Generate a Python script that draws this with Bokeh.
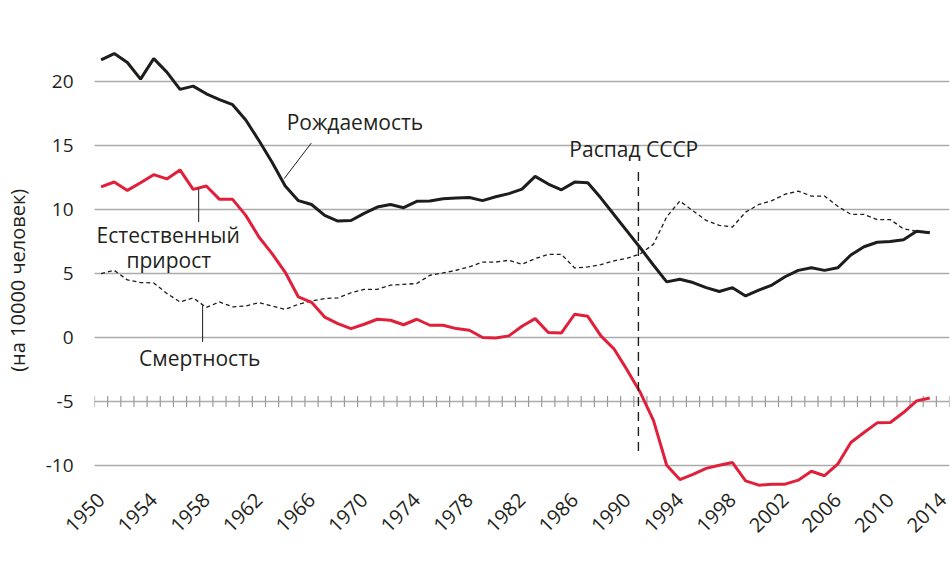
import math
from bokeh.plotting import figure
from bokeh.models import Range1d, FixedTicker, Label, ColumnDataSource
from bokeh.embed import file_html
from bokeh.resources import INLINE

years = list(range(1950, 2014))

birth_rate = [21.7, 22.2, 21.5, 20.2, 21.8, 20.75, 19.4, 19.65, 19.05, 18.6,
              18.2, 17.0, 15.4, 13.7, 11.85, 10.7, 10.4, 9.55, 9.1, 9.15,
              9.7, 10.2, 10.4, 10.15, 10.65, 10.67, 10.85, 10.9, 10.95, 10.7,
              11.0, 11.25, 11.6, 12.6, 12.0, 11.55, 12.15, 12.1, 10.9, 9.6,
              8.3, 7.0, 5.65, 4.35, 4.55, 4.3, 3.9, 3.6, 3.9, 3.25,
              3.7, 4.1, 4.75, 5.25, 5.45, 5.25, 5.45, 6.45, 7.1, 7.45,
              7.5, 7.65, 8.3, 8.2]

death_rate = [5.0, 5.25, 4.5, 4.3, 4.27, 3.45, 2.78, 3.1, 2.35, 2.78,
              2.4, 2.47, 2.73, 2.47, 2.2, 2.6, 2.86, 3.05, 3.1, 3.5,
              3.77, 3.77, 4.09, 4.16, 4.22, 4.87, 5.05, 5.26, 5.52, 5.9,
              5.9, 6.04, 5.73, 6.17, 6.5, 6.5, 5.44, 5.52, 5.7, 6.0,
              6.2, 6.55, 7.3, 9.43, 10.67, 9.9, 9.16, 8.77, 8.64, 9.8,
              10.4, 10.7, 11.2, 11.45, 11.06, 11.06, 10.26, 9.63, 9.63, 9.22,
              9.22, 8.5, 8.3, 8.25]

natural_growth = [11.77, 12.16, 11.5, 12.1, 12.73, 12.4, 13.1, 11.58, 11.84, 10.8,
                  10.8, 9.55, 7.86, 6.56, 5.1, 3.17, 2.75, 1.6, 1.09, 0.7,
                  1.04, 1.43, 1.35, 1.0, 1.43, 0.96, 0.96, 0.7, 0.57, 0.0,
                  -0.03, 0.13, 0.88, 1.48, 0.39, 0.36, 1.82, 1.66, 0.13, -0.9,
                  -2.55, -4.3, -6.5, -9.98, -11.1, -10.7, -10.23, -9.98, -9.77, -11.2,
                  -11.54, -11.46, -11.46, -11.15, -10.45, -10.8, -9.9, -8.2, -7.42, -6.67,
                  -6.64, -5.86, -4.95, -4.72]

x_tick_years = list(range(1950, 2015, 4))
y_ticks = [-10, -5, 0, 5, 10, 15, 20]
y_tick_text = {-10: "-10", -5: "-5"}
axis_value = -5
ussr_collapse = 1990.85

FONT = "Open Sans"
TXT = "#231f20"
RED = "#e0203a"
BLK = "#1d1d1b"
GRID = "#ababab"

p = figure(width=952, height=555, output_backend="svg", toolbar_location=None,
           x_range=Range1d(1949.5, 2014.5), y_range=Range1d(-11.8, 24.0),
           min_border_left=88, min_border_right=3, min_border_top=30,
           min_border_bottom=67)
p.outline_line_color = None
p.background_fill_color = "white"
p.border_fill_color = "white"

# axes
p.xaxis.ticker = FixedTicker(ticks=x_tick_years)
p.xaxis.axis_line_color = None
p.xaxis.major_tick_line_color = None
p.xaxis.minor_tick_line_color = None
p.xaxis.major_label_orientation = math.pi / 4
p.xaxis.major_label_text_font = FONT
p.xaxis.major_label_text_font_size = "20px"
p.xaxis.major_label_text_color = TXT
p.xaxis.major_label_standoff = 2

p.yaxis.ticker = FixedTicker(ticks=y_ticks)
p.yaxis.major_label_overrides = y_tick_text
p.yaxis.axis_line_color = None
p.yaxis.major_tick_line_color = None
p.yaxis.minor_tick_line_color = None
p.yaxis.major_label_text_font = FONT
p.yaxis.major_label_text_font_size = "19px"
p.yaxis.major_label_text_color = TXT
p.yaxis.major_label_standoff = 15
p.yaxis.axis_label = "(на 10000 человек)" + "\u00a0" * 8
p.yaxis.axis_label_text_font = FONT
p.yaxis.axis_label_text_font_size = "20px"
p.yaxis.axis_label_text_font_style = "normal"
p.yaxis.axis_label_text_color = TXT
p.yaxis.axis_label_standoff = 12

p.xgrid.grid_line_color = None
p.ygrid.ticker = FixedTicker(ticks=y_ticks)
p.ygrid.grid_line_color = GRID
p.ygrid.grid_line_width = 1.6

# year tick marks on the -5 line (category boundaries)
bounds = [y - 0.5 for y in range(1950, 2016)]
tick_src = ColumnDataSource(dict(x=bounds, y0=[axis_value - 0.43] * len(bounds),
                                 y1=[axis_value + 0.43] * len(bounds)))
p.segment(x0="x", x1="x", y0="y0", y1="y1", source=tick_src,
          line_color="#9a9a9a", line_width=1.2)

src = ColumnDataSource(dict(year=years, birth=birth_rate, death=death_rate,
                            nat=natural_growth))
p.line("year", "death", source=src, line_color=BLK, line_width=1.3, line_dash="4 3")
p.line("year", "birth", source=src, line_color=BLK, line_width=3.0)
p.line("year", "nat", source=src, line_color=RED, line_width=3.0)

# USSR collapse marker
p.line([ussr_collapse, ussr_collapse], [12.94, -9.33], line_color=BLK,
       line_width=1.4, line_dash="9 6")

# leader lines
p.line([1965.98, 1963.92], [15.2, 12.42], line_color=BLK, line_width=1.0)
p.line([1957.42, 1957.42], [11.64, 9.03], line_color=BLK, line_width=1.0)
p.line([1957.72, 1957.72], [2.52, -0.34], line_color=BLK, line_width=1.0)


def lab(x, y, t, size="21px"):
    p.add_layout(Label(x=x, y=y, text=t, text_font=FONT, text_font_size=size,
                       text_color=TXT, text_align="center",
                       text_baseline="middle"))


lab(1969.3, 16.84, "Рождаемость")
lab(1955.1, 8.05, "Естественный")
lab(1955.15, 6.04, "прирост")
lab(1957.5, -1.62, "Смертность")
lab(1990.5, 14.71, "Распад СССР")

open("out.html", "w").write(file_html(p, INLINE))
